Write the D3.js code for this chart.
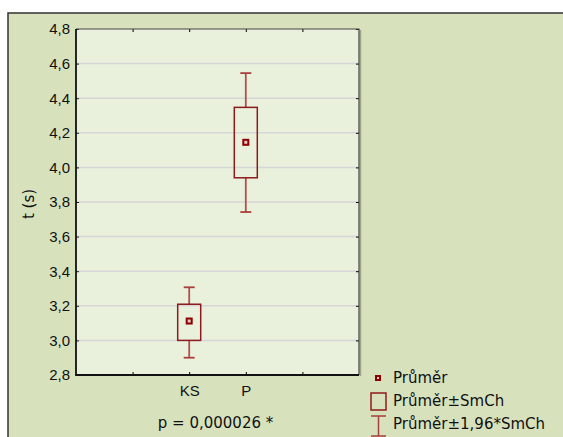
<!DOCTYPE html>
<html>
<head>
<meta charset="utf-8">
<script src="https://cdn.jsdelivr.net/npm/d3@7"></script>
<style>
  body { margin: 0; background: #fff; }
  svg { display: block; font-family: "DejaVu Sans", Verdana, sans-serif; }
</style>
</head>
<body>
<svg width="563" height="437"></svg>
<script>
// data
var categories = ["", "KS", "P", " "];
var groups = ["KS", "P"];
var means = [3.112, 4.145];
var seLow = [3.0, 3.94];
var seHigh = [3.209, 4.347];
var ciLow = [2.90, 3.742];
var ciHigh = [3.307, 4.545];
var yTicks = [2.8, 3.0, 3.2, 3.4, 3.6, 3.8, 4.0, 4.2, 4.4, 4.6, 4.8];
var legendLabels = ["Průměr", "Průměr±SmCh", "Průměr±1,96*SmCh"];

var svg = d3.select("svg"),
margin = {top: 29, right: 204, bottom: 62, left: 76},
width = +svg.attr("width") - margin.left - margin.right,
height = +svg.attr("height") - margin.top - margin.bottom;

// outer panel
svg.append("rect")
.attr("x", 8).attr("y", 13)
.attr("width", 563).attr("height", 437)
.attr("fill", "#d7e2bd")
.attr("stroke", "#333")
.attr("stroke-width", 1.5);

var g = svg.append("g").attr("transform", "translate(" + margin.left + "," + margin.top + ")");

var x = d3.scalePoint().domain(categories).range([0, width]).padding(1);
var y = d3.scaleLinear().domain([2.8, 4.8]).range([height, 0]);

g.append("rect")
.attr("width", width).attr("height", height)
.attr("fill", "#e9f0dc");

// grid
g.append("g").selectAll("line")
.data(yTicks.slice(1, -1))
.enter().append("line")
.attr("x1", 0).attr("x2", width)
.attr("y1", function(d) { return y(d); })
.attr("y2", function(d) { return y(d); })
.attr("stroke", "#d6d6d6")
.attr("stroke-width", 1.5);

// axes
var fmt = function(d) { return d3.format(".1f")(d).replace(".", ","); };

var yAxis = g.append("g")
.call(d3.axisLeft(y).tickValues(yTicks).tickFormat(fmt).tickSize(-3).tickPadding(6));
yAxis.select(".domain").remove();
yAxis.selectAll("text").attr("font-size", 15).attr("fill", "#111");
yAxis.selectAll("line").attr("stroke", "#222");

var yAxisR = g.append("g").attr("transform", "translate(" + width + ",0)")
.call(d3.axisRight(y).tickValues(yTicks).tickSize(-3).tickFormat(""));
yAxisR.select(".domain").remove();

var xAxis = g.append("g").attr("transform", "translate(0," + height + ")")
.call(d3.axisBottom(x).tickSize(-3).tickPadding(10));
xAxis.select(".domain").remove();
xAxis.selectAll("text").attr("font-size", 15).attr("fill", "#111");

var xAxisT = g.append("g")
.call(d3.axisTop(x).tickSize(-3).tickFormat(""));
xAxisT.select(".domain").remove();

// frame
g.append("line").attr("x1", width + 1.5).attr("x2", width + 1.5).attr("y1", 1).attr("y2", height + 1)
.attr("stroke", "#9aa58a").attr("stroke-width", 1.5);
g.append("path")
.attr("d", "M0,0H" + width + "V" + height)
.attr("fill", "none").attr("stroke", "#444").attr("stroke-width", 1.2);
g.append("path")
.attr("d", "M0,0V" + height + "H" + width)
.attr("fill", "none").attr("stroke", "#111").attr("stroke-width", 1.8);

// whiskers
var bw = 23, cw = 11;
var box = g.selectAll(".grp")
.data(groups)
.enter().append("g")
.attr("class", "grp")
.attr("transform", function(d) { return "translate(" + x(d) + ",0)"; });

box.append("line")
.attr("y1", function(d, i) { return y(ciHigh[i]); })
.attr("y2", function(d, i) { return y(seHigh[i]); })
.attr("stroke", "#b0504c").attr("stroke-width", 1.8);
box.append("line")
.attr("y1", function(d, i) { return y(seLow[i]); })
.attr("y2", function(d, i) { return y(ciLow[i]); })
.attr("stroke", "#b0504c").attr("stroke-width", 1.8);
box.append("line")
.attr("x1", -cw / 2).attr("x2", cw / 2)
.attr("y1", function(d, i) { return y(ciHigh[i]); })
.attr("y2", function(d, i) { return y(ciHigh[i]); })
.attr("stroke", "#a8403c").attr("stroke-width", 1.8);
box.append("line")
.attr("x1", -cw / 2).attr("x2", cw / 2)
.attr("y1", function(d, i) { return y(ciLow[i]); })
.attr("y2", function(d, i) { return y(ciLow[i]); })
.attr("stroke", "#a8403c").attr("stroke-width", 1.8);

box.append("rect")
.attr("x", -bw / 2).attr("width", bw)
.attr("y", function(d, i) { return y(seHigh[i]); })
.attr("height", function(d, i) { return y(seLow[i]) - y(seHigh[i]); })
.attr("fill", "none").attr("stroke", "#8e1b1b").attr("stroke-width", 1.5);

box.append("rect")
.attr("x", -2.5).attr("width", 5)
.attr("y", function(d, i) { return y(means[i]) - 2.5; })
.attr("height", 5)
.attr("fill", "#e8c8c0").attr("stroke", "#8e0000").attr("stroke-width", 2);

// labels
svg.append("text")
.attr("transform", "translate(34," + (margin.top + height / 2 + 2) + ") rotate(-90)")
.attr("text-anchor", "middle")
.attr("font-size", 15).attr("fill", "#111")
.text("t (s)");

svg.append("text")
.attr("x", margin.left + width / 2 - 2).attr("y", 428)
.attr("text-anchor", "middle")
.attr("font-size", 15).attr("fill", "#111")
.text("p = 0,000026 *");

// legend
var legend = svg.append("g")
.selectAll("g")
.data(legendLabels)
.enter().append("g")
.attr("transform", function(d, i) { return "translate(378," + (378 + i * 23) + ")"; });

legend.filter(function(d, i) { return i == 0; }).append("rect")
.attr("x", -2).attr("y", -2).attr("width", 4).attr("height", 4)
.attr("fill", "#e8c8c0").attr("stroke", "#8e0000").attr("stroke-width", 2);
legend.filter(function(d, i) { return i == 1; }).append("rect")
.attr("x", -7).attr("y", -8).attr("width", 15).attr("height", 17)
.attr("fill", "none").attr("stroke", "#8e1b1b").attr("stroke-width", 1.5);
var wh = legend.filter(function(d, i) { return i == 2; });
wh.append("path")
.attr("d", "M-7,-8H8M0.5,-8V12M-7,12H8")
.attr("fill", "none").attr("stroke", "#a8403c").attr("stroke-width", 1.5);

legend.append("text")
.attr("x", 15).attr("y", 5)
.attr("font-size", 15).attr("fill", "#111")
.text(function(d) { return d; });
</script>
</body>
</html>
